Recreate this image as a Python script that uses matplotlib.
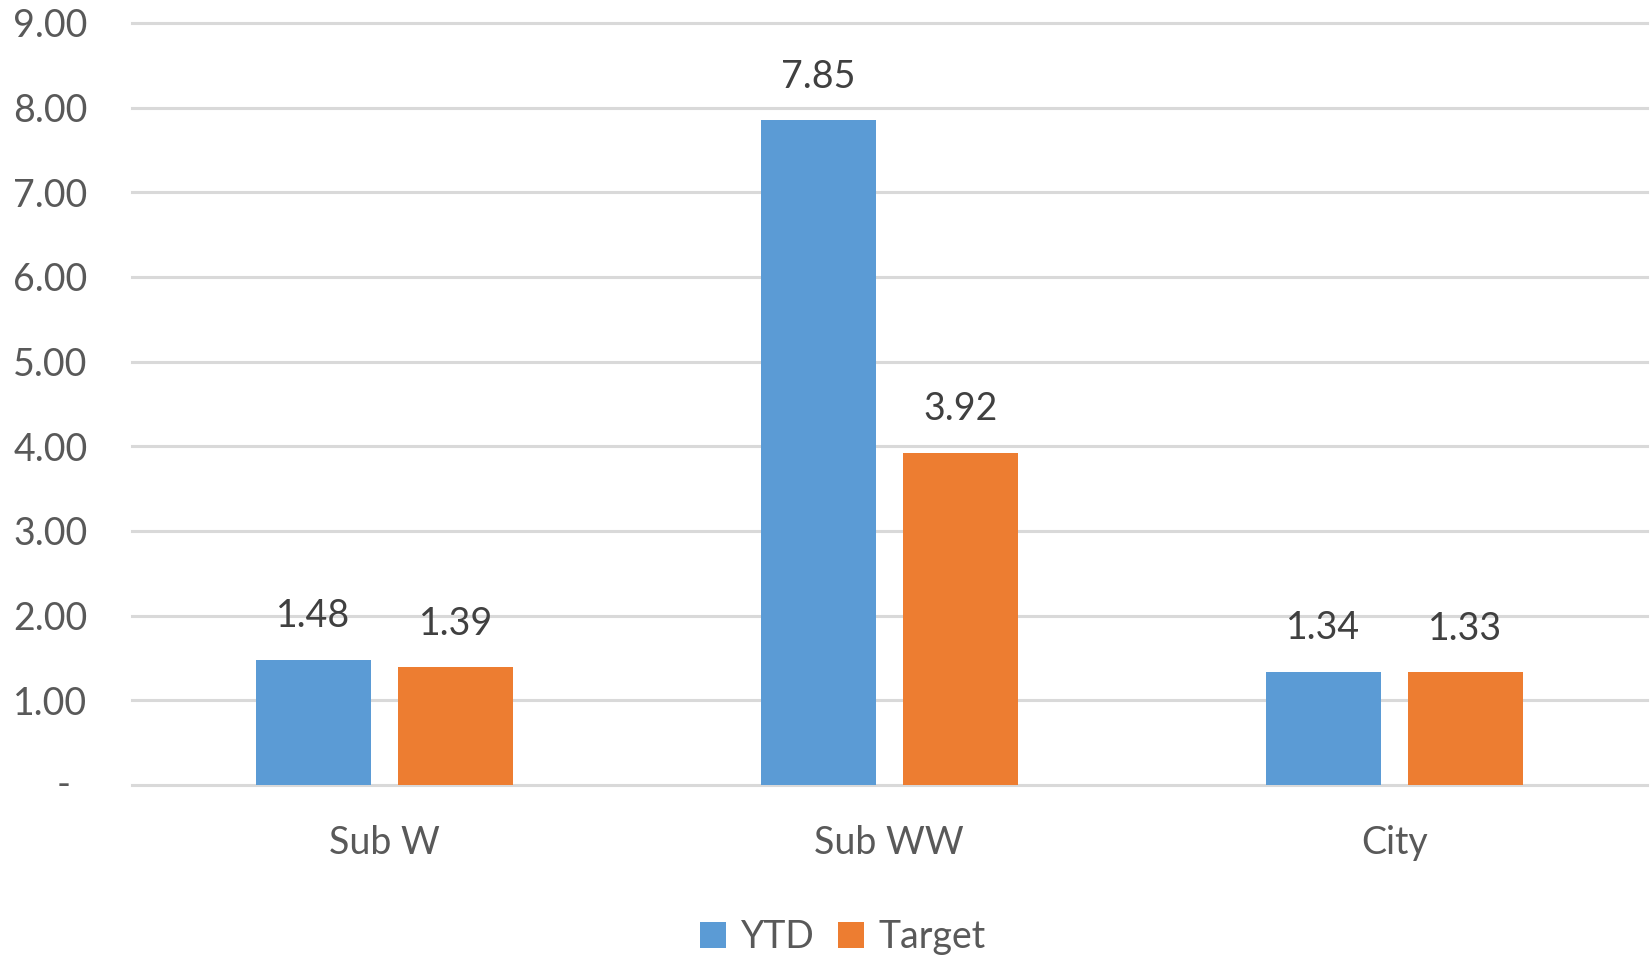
import matplotlib
matplotlib.use("Agg")
import matplotlib.pyplot as plt
import numpy as np

categories = ["Sub W", "Sub WW", "City"]
ytd = [1.48, 7.85, 1.34]
target = [1.39, 3.92, 1.33]
series_names = ["YTD", "Target"]
y_ticks = [0, 1, 2, 3, 4, 5, 6, 7, 8, 9]

plt.rcParams["font.family"] = ["Lato", "DejaVu Sans"]

BLUE = "#5B9BD5"
ORANGE = "#ED7D31"
TICK_COLOR = "#595959"
LABEL_COLOR = "#404040"
GRID_COLOR = "#D9D9D9"
FS = 27

fig = plt.figure(figsize=(16.5, 9.58), dpi=100)
ax = fig.add_axes([0.08, 0.1806, 0.918, 0.7954])

x = np.arange(len(categories))
width = 0.228
offset = 0.141

bars_ytd = ax.bar(x - offset, ytd, width, color=BLUE, label=series_names[0], zorder=3)
bars_tgt = ax.bar(x + offset, target, width, color=ORANGE, label=series_names[1], zorder=3)

for bars, vals in ((bars_ytd, ytd), (bars_tgt, target)):
    for b, v in zip(bars, vals):
        ax.annotate(f"{v:.2f}", xy=(b.get_x() + b.get_width() / 2, v),
                    xytext=(0, 31.5), textcoords="offset points",
                    ha="center", va="center", fontsize=FS, color=LABEL_COLOR)

ax.set_xlim(-0.5, len(categories) - 0.5)
ax.set_ylim(0, 9)
ax.set_xticks(x)
ax.set_xticklabels(categories, fontsize=FS, color=TICK_COLOR)
ax.set_yticks(y_ticks)
ax.set_yticklabels([f"{t:.2f}" if t else "" for t in y_ticks], fontsize=FS, color=TICK_COLOR)
ax.tick_params(axis="both", length=0)
ax.tick_params(axis="x", pad=29)
ax.tick_params(axis="y", pad=32)

# zero shown as an accounting-style dash
ax.annotate("-", xy=(0, 0), xycoords=("axes fraction", "data"),
            xytext=(-44, 0), textcoords="offset points",
            ha="right", va="center", fontsize=FS, color=TICK_COLOR)

ax.yaxis.grid(True, color=GRID_COLOR, linewidth=2.2, zorder=0)
ax.set_axisbelow(True)
for line in ax.get_ygridlines():
    line.set_clip_on(False)

for s in ax.spines.values():
    s.set_visible(False)

fig.legend(handles=[bars_ytd, bars_tgt], labels=series_names, loc="center",
           bbox_to_anchor=(0.511, 0.022), ncol=2, frameon=False, fontsize=FS,
           labelcolor=TICK_COLOR, handlelength=0.7, handleheight=0.7,
           handletextpad=0.4, columnspacing=0.6)

fig.savefig("out.png", dpi=100)
